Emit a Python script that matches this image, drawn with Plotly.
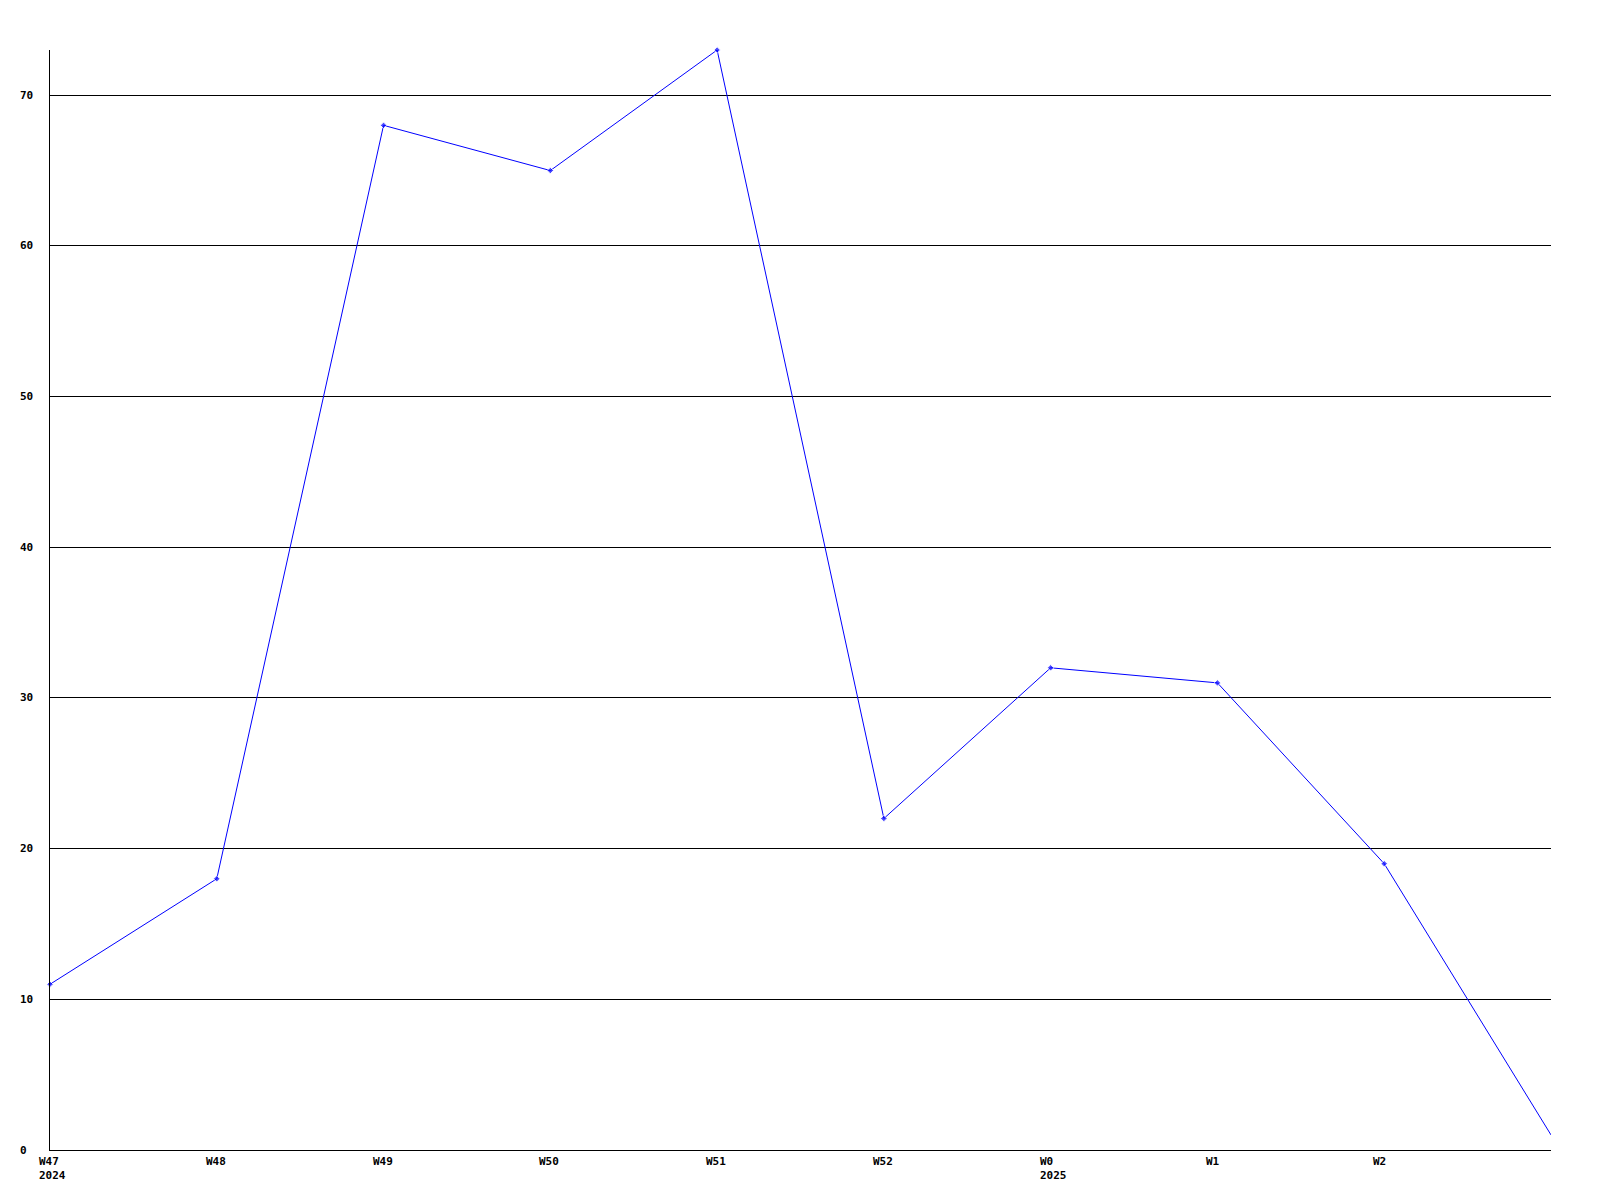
import plotly.graph_objects as go

weeks = ["W47", "W48", "W49", "W50", "W51", "W52", "W0", "W1", "W2", "W3"]
week_labels = ["W47", "W48", "W49", "W50", "W51", "W52", "W0", "W1", "W2"]
year_labels = {"W47": "2024", "W0": "2025"}
values = [11, 18, 68, 65, 73, 22, 32, 31, 19, 1]
y_ticks = [0, 10, 20, 30, 40, 50, 60, 70]

xs = list(range(len(weeks)))
FONT = dict(family="DejaVu Sans Mono", size=11, color="black")

fig = go.Figure()
fig.add_trace(go.Scatter(
    x=xs, y=values, mode="lines+markers",
    line=dict(color="#0000ff", width=1),
    marker=dict(symbol="diamond", size=[5] * (len(values) - 1) + [0], color="#0000ff"),
    cliponaxis=False, showlegend=False, hoverinfo="skip",
))

annotations = []
for i, w in enumerate(week_labels):
    txt = f"<b>{w}</b>"
    if w in year_labels:
        txt += f"<br><b>{year_labels[w]}</b>"
    annotations.append(dict(
        x=i, y=0, xref="x", yref="paper", text=txt, showarrow=False,
        xanchor="left", yanchor="top", align="left", xshift=-13, yshift=-3,
        font=FONT,
    ))
for t in y_ticks:
    annotations.append(dict(
        x=0, y=t, xref="paper", yref="y", text=f"<b>{t}</b>", showarrow=False,
        xanchor="left", yanchor="middle", align="left", xshift=-32,
        font=FONT,
    ))

fig.update_layout(
    width=1600, height=1200,
    margin=dict(l=42, r=57, t=42, b=58),
    paper_bgcolor="white", plot_bgcolor="white",
    annotations=annotations,
    xaxis=dict(range=[0, len(weeks) - 1], showgrid=False, zeroline=False,
               showticklabels=False, ticks="", showline=True, linecolor="black",
               linewidth=1, fixedrange=True),
    yaxis=dict(range=[0, 73], tickvals=y_ticks[1:], showgrid=True, gridcolor="black",
               gridwidth=1, zeroline=False, showticklabels=False, ticks="",
               showline=True, linecolor="black", linewidth=1, fixedrange=True),
)
fig.write_html("out.html")
